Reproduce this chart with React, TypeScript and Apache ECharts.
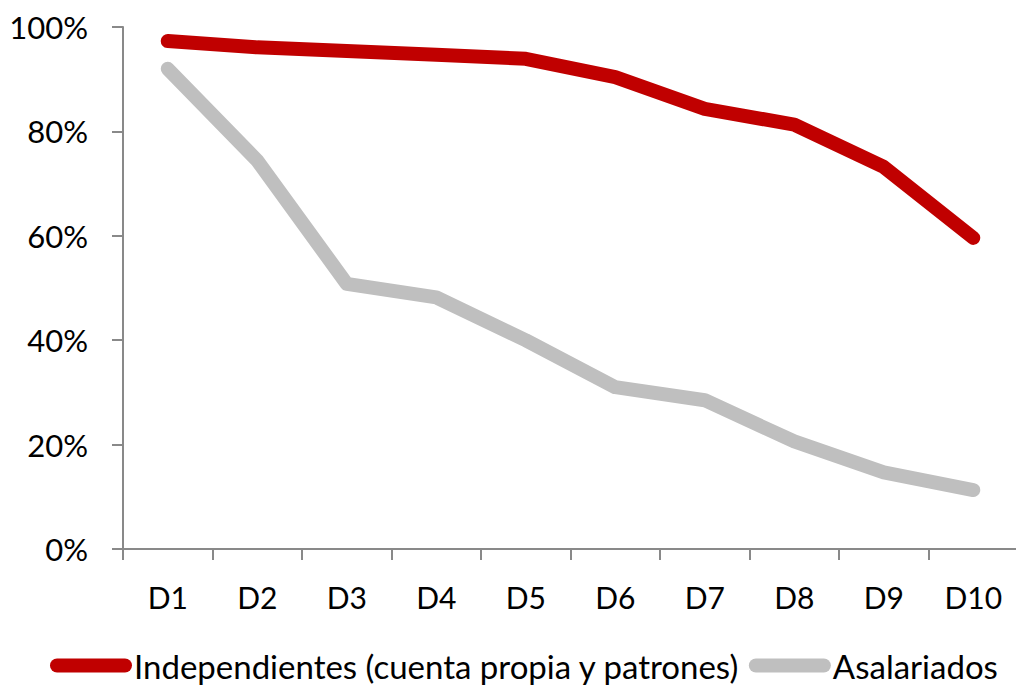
import React, { useEffect, useRef } from "react";
import * as echarts from "echarts";

const categories = ["D1", "D2", "D3", "D4", "D5", "D6", "D7", "D8", "D9", "D10"];
const independientes = [97.3, 96.1, 95.4, 94.7, 93.9, 90.4, 84.3, 81.3, 73.2, 59.6];
const asalariados = [92.0, 74.4, 50.8, 48.2, 40.0, 31.0, 28.5, 20.6, 14.7, 11.3];
const yTicks = [0, 20, 40, 60, 80, 100];

const FONT = "Lato";
const capsule = "path://M7,0 L75,0 A7,7 0 0 1 75,14 L7,14 A7,7 0 0 1 7,0 Z";

export default function App() {
  const ref = useRef<HTMLDivElement>(null);
  useEffect(() => {
    if (!ref.current) return;
    const chart = echarts.init(ref.current, undefined, { renderer: "svg" });
    chart.setOption({
      animation: false,
      backgroundColor: "#ffffff",
      textStyle: { fontFamily: FONT },
      grid: { left: 123, right: 0, top: 27, bottom: 138, containLabel: false },
      legend: {
        bottom: 0,
        left: 45,
        itemWidth: 82,
        itemHeight: 14,
        itemGap: 9,
        textStyle: { fontFamily: FONT, fontSize: 33, color: "#000", padding: [0, 0, 0, -3] },
        data: [
          { name: "Independientes (cuenta propia y patrones)", icon: capsule },
          { name: "Asalariados", icon: capsule },
        ],
      },
      xAxis: {
        type: "category",
        data: categories,
        boundaryGap: true,
        axisLine: { lineStyle: { color: "#898989", width: 2 } },
        axisTick: { show: true, length: 11, lineStyle: { color: "#898989", width: 2 } },
        axisLabel: { color: "#000", fontSize: 30, fontFamily: FONT, margin: 33 },
      },
      yAxis: {
        type: "value",
        min: 0,
        max: 100,
        interval: 20,
        axisLine: { show: true, lineStyle: { color: "#898989", width: 2 } },
        axisTick: { show: true, length: 11, lineStyle: { color: "#898989", width: 2 } },
        splitLine: { show: false },
        axisLabel: {
          color: "#000",
          fontSize: 31,
          fontFamily: FONT,
          margin: 35,
          formatter: (v: number) => (yTicks.includes(v) ? `${v}%` : ""),
        },
      },
      series: [
        {
          name: "Independientes (cuenta propia y patrones)",
          type: "line",
          data: independientes,
          symbol: "none",
          color: "#C00000",
          lineStyle: { color: "#C00000", width: 14, cap: "round", join: "round" },
        },
        {
          name: "Asalariados",
          type: "line",
          data: asalariados,
          symbol: "none",
          color: "#BFBFBF",
          lineStyle: { color: "#BFBFBF", width: 14, cap: "round", join: "round" },
        },
      ],
    });
    return () => chart.dispose();
  }, []);
  return (
    <div
      ref={ref}
      style={{ position: "fixed", left: 0, top: 0, width: 1018, height: 687 }}
    />
  );
}
